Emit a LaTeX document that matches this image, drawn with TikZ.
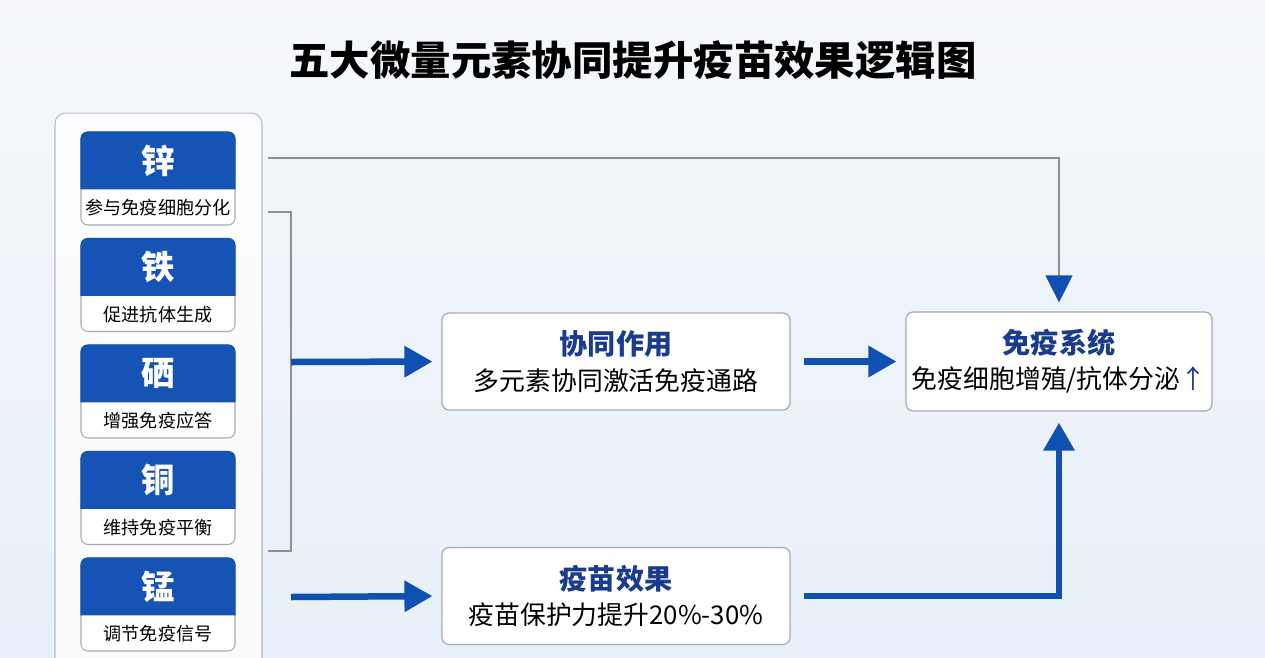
\documentclass[tikz,border=0pt]{standalone}
\usepackage{fontspec}
\setmainfont{Noto Sans CJK SC}
\usetikzlibrary{arrows.meta,positioning,calc}
\definecolor{headblue}{HTML}{1553B4}
\definecolor{flowblue}{HTML}{1050B0}
\definecolor{titleblue}{HTML}{1B3C8C}
\definecolor{linegray}{HTML}{8E9094}
\definecolor{boxgray}{HTML}{A7ABB0}
\definecolor{bgtop}{HTML}{F6F8FB}
\definecolor{bgbot}{HTML}{E7EFF8}
\newcommand{\subline}{\fontsize{14.7}{20}\selectfont}
\begin{document}
\begin{tikzpicture}[
    x=0.02cm, y=-0.02cm,
    card/.style={rectangle, draw=boxgray, fill=white, rounded corners=4pt, line width=0.6pt, minimum width=3.08cm, minimum height=1.86cm, inner sep=0pt},
    elemsym/.style={font=\fontsize{19}{22}\selectfont\bfseries, text=white, inner sep=0pt},
    elemtxt/.style={font=\fontsize{10.3}{12}\selectfont, text=black, inner sep=0pt},
    stepbox/.style={rectangle, draw=boxgray, fill=white, rounded corners=4pt, line width=0.7pt, minimum height=1.94cm, align=center, font=\fontsize{16}{20}\selectfont},
    flow/.style={draw=flowblue, line width=0.13cm, -{Triangle[length=0.56cm, width=0.6cm]}, shorten >=0.18cm},
    thinflow/.style={draw=linegray, line width=0.7pt, -{Triangle[length=0.54cm, width=0.54cm, color=flowblue]}, shorten >=0.18cm},
    bracket/.style={draw=linegray, line width=0.7pt}
]
    % background
    \clip (0,0) rectangle (1265,657);
    \fill[top color=bgtop, bottom color=bgbot] (0,0) rectangle (1265,657);

    \node[font=\fontsize{23}{28}\selectfont\bfseries] (title) at (633,60) {五大微量元素协同提升疫苗效果逻辑图};

    % element panel
    \node[rectangle, draw=boxgray!80, fill=white, fill opacity=0.8, rounded corners=6pt, line width=0.6pt, minimum width=4.14cm, minimum height=11.54cm] (panel) at (158.5,401.5) {};
    \foreach \nm/\sym/\desc [count=\i from 0] in {zn/锌/参与免疫细胞分化, fe/铁/促进抗体生成, se/硒/增强免疫应答, cu/铜/维持免疫平衡, mn/锰/调节免疫信号} {
        \node[card] (\nm) at (158, 178.5+106.5*\i) {};
        \fill[headblue] ([yshift=-1.16cm]\nm.north west) [rounded corners=4pt] -- (\nm.north west) -- (\nm.north east) [sharp corners] -- ([yshift=-1.16cm]\nm.north east) -- cycle;
        \node[elemsym] (\nm-sym) at ([yshift=-0.58cm]\nm.north) {\sym};
        \node[elemtxt] (\nm-txt) at ([yshift=0.35cm]\nm.south) {\desc};
    }

    % process boxes
    \node[stepbox, minimum width=6.96cm] (syn) at (616,361.5) {{\bfseries\color{titleblue}协同作用}\\\subline 多元素协同激活免疫通路};
    \node[stepbox, minimum width=6.96cm] (vac) at (616,596) {{\bfseries\color{titleblue}疫苗效果}\\\subline 疫苗保护力提升20\%-30\%};
    \node[stepbox, minimum width=6.12cm, minimum height=1.98cm] (imm) at (1059,361.5) {{\bfseries\color{titleblue}免疫系统}\\\subline 免疫细胞增殖/抗体分泌{\color{titleblue}↑}};

    % connectors
    \coordinate (topout) at (268,158);
    \coordinate (brA) at (268,212);
    \coordinate (brM) at (291,362);
    \coordinate (brB) at (268,551);
    \coordinate (mnout) at (291,597);
    \draw[thinflow] (topout) -| (imm.north);
    \draw[bracket] (brA) -| (brM) |- (brB);
    \draw[flow] (brM) -- (syn.west);
    \draw[flow, shorten <=0.26cm] (syn.east) -- (imm.west);
    \draw[flow] (mnout) -- (vac.west);
    \draw[flow, shorten <=0.26cm, shorten >=0.22cm] (vac.east) -| (imm.south);
\end{tikzpicture}
\end{document}
